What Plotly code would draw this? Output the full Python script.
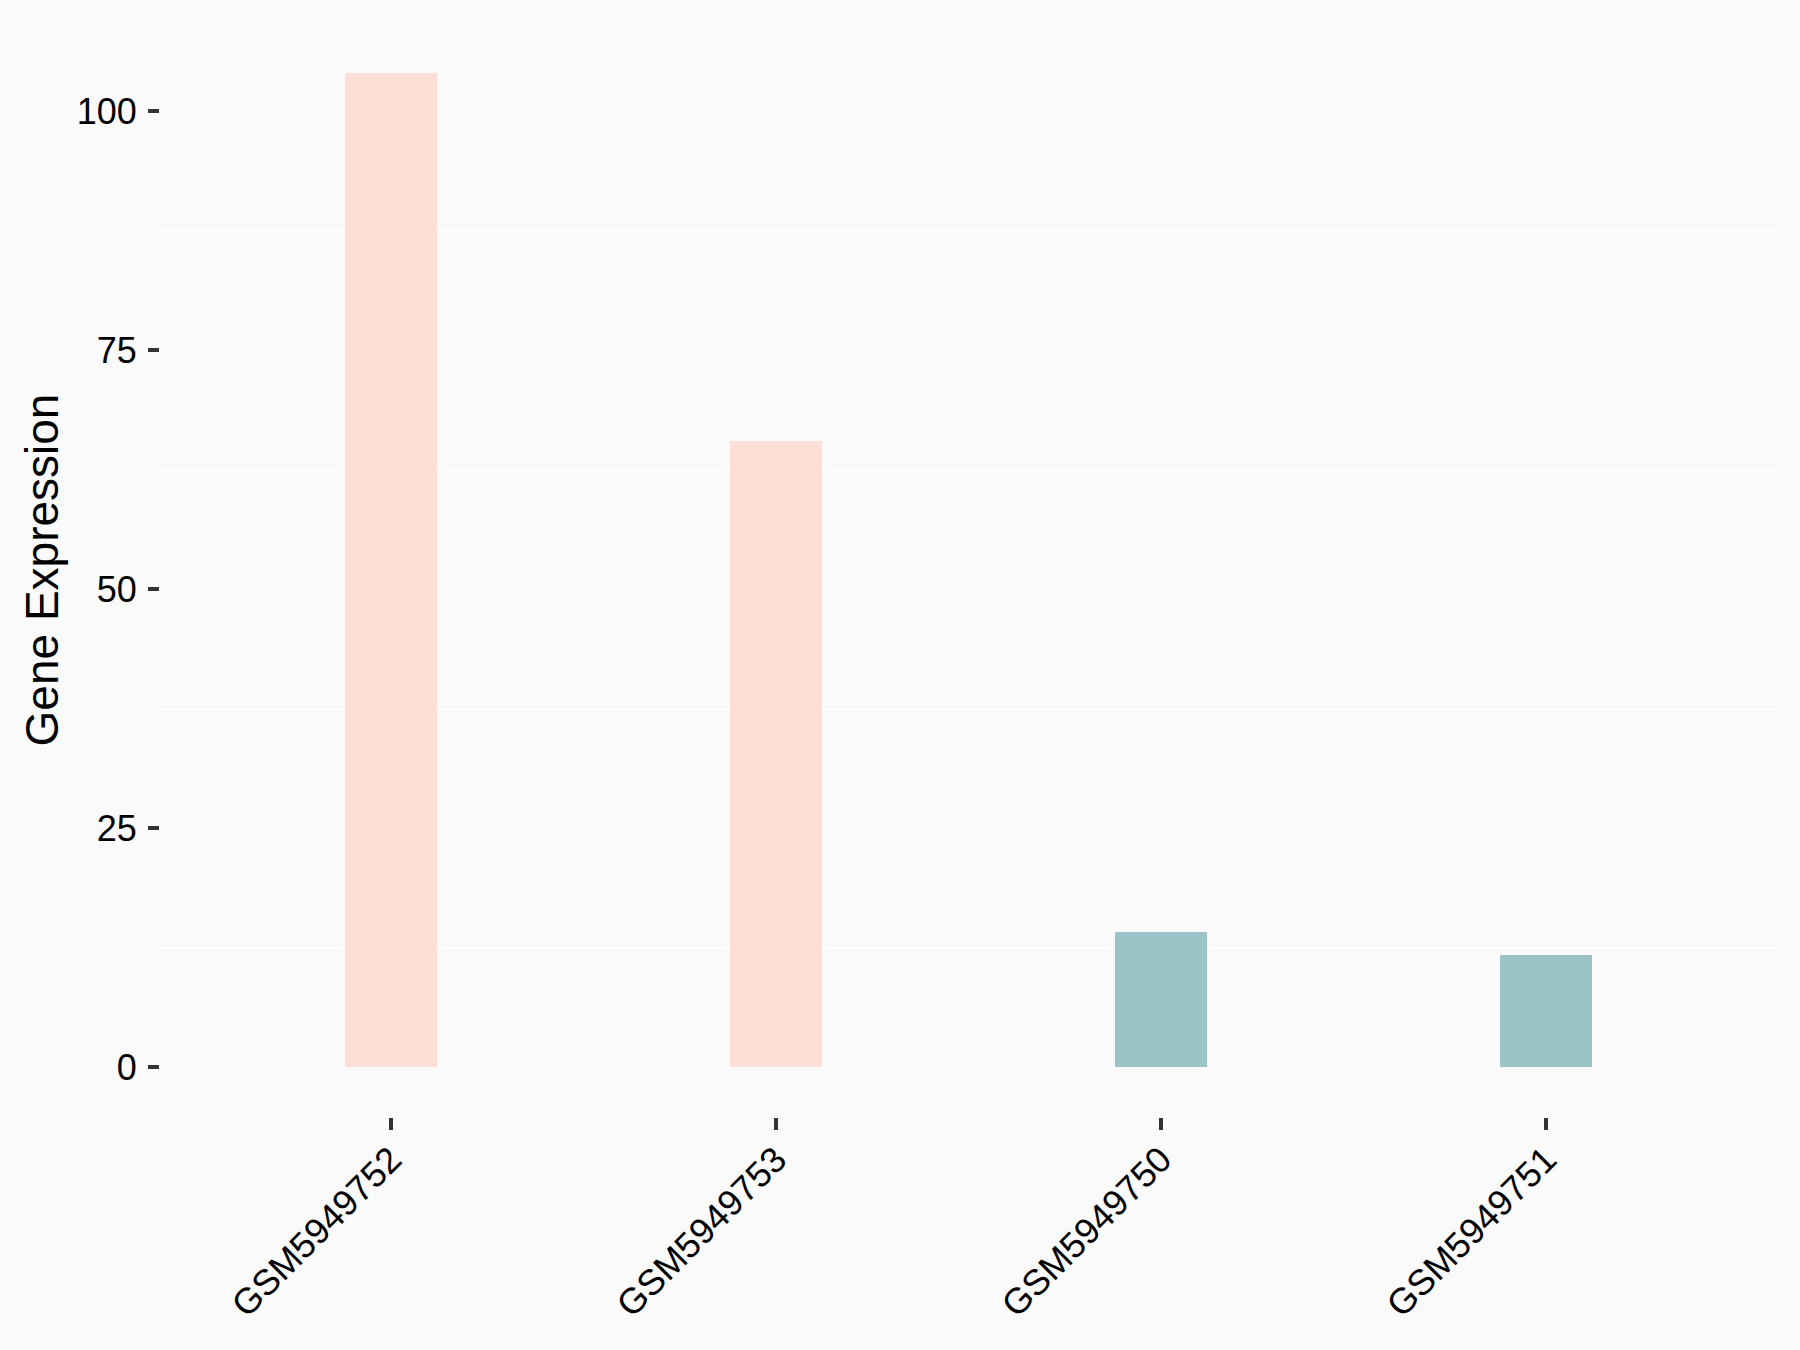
import plotly.graph_objects as go

samples = ["GSM5949752", "GSM5949753", "GSM5949750", "GSM5949751"]
expression = [104.0, 65.5, 14.1, 11.7]
groups = ["A", "A", "B", "B"]
group_colors = {"A": "#FEDFD5", "B": "#9CC3C8"}
y_ticks = [0, 25, 50, 75, 100]
y_minor = [12.5, 37.5, 62.5, 87.5]

fig = go.Figure(
    go.Bar(
        x=samples,
        y=expression,
        width=0.24,
        marker=dict(color=[group_colors[g] for g in groups], line=dict(width=0)),
        showlegend=False,
    )
)

font = "Liberation Sans, Arial, sans-serif"
fig.update_layout(
    width=1800,
    height=1350,
    paper_bgcolor="#FAFAFA",
    plot_bgcolor="#FAFAFA",
    margin=dict(l=160, r=23, t=23, b=233, autoexpand=False),
    font=dict(family=font, size=36, color="#000000"),
    bargap=0,
)
fig.update_xaxes(
    type="category",
    range=[-0.6, 3.6],
    showgrid=False,
    zeroline=False,
    showline=False,
    ticks="outside",
    ticklen=12,
    tickwidth=4,
    tickcolor="#333333",
    tickangle=-45,
    tickfont=dict(size=36, color="#000000"),
    ticklabelstandoff=-6,
    automargin=False,
)
fig.update_yaxes(
    range=[-5.2, 109.2],
    tickvals=y_ticks,
    showgrid=False,
    zeroline=False,
    showline=False,
    ticks="outside",
    ticklen=11,
    tickwidth=4,
    tickcolor="#333333",
    tickfont=dict(size=36, color="#000000"),
    ticklabelstandoff=4,
    minor=dict(tickvals=y_minor, showgrid=True, gridcolor="#FFFFFF", gridwidth=1.5, ticks=""),
    title=dict(text="Gene Expression", font=dict(size=46, color="#000000"), standoff=3),
    automargin=False,
)

fig.write_html(
    "out.html",
    config={"displayModeBar": False},
    post_script="document.body.style.margin='0';document.body.style.background='#FAFAFA';",
)
